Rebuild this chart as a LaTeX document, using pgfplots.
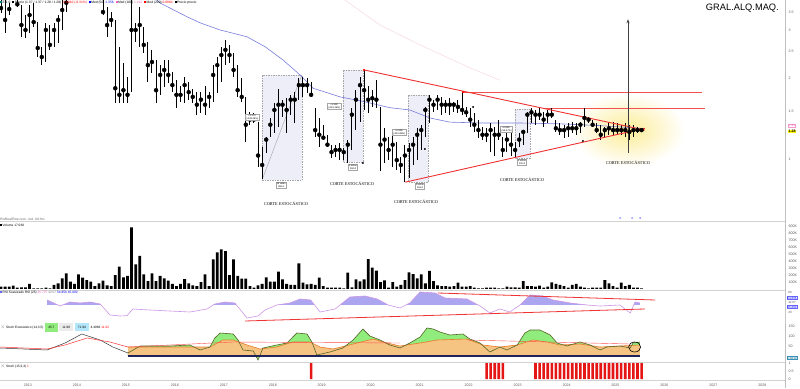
\documentclass[border=0pt]{standalone}
\usepackage{fontspec}
\setmainfont{Liberation Sans}
\newfontfamily\cortefont{Liberation Serif}
\usepackage{pgfplots}
\usepackage{pgfplotstable}
\pgfplotsset{compat=1.18}
\usetikzlibrary{arrows.meta}

\definecolor{maBlue}{RGB}{120,125,220}
\definecolor{maPink}{RGB}{246,222,228}
\definecolor{boxFill}{RGB}{238,238,248}
\definecolor{rsiLine}{RGB}{205,150,230}
\definecolor{rsiFill}{RGB}{172,166,240}
\definecolor{stGreen}{RGB}{144,236,124}
\definecolor{stOrange}{RGB}{246,196,130}
\definecolor{stOrangeLine}{RGB}{232,122,40}
\definecolor{stK}{RGB}{85,100,40}
\definecolor{navyline}{RGB}{30,35,90}
\definecolor{glow}{RGB}{252,236,150}
\definecolor{lblgray}{RGB}{90,90,90}
\definecolor{barred}{RGB}{228,22,22}
\definecolor{trendred}{RGB}{240,50,50}
\definecolor{hred}{RGB}{245,80,80}

\newcommand{\tinyf}{\fontsize{3.6}{4}\selectfont}

\pgfplotsset{
 panel/.style={
   scale only axis, width=785pt, xmin=-6.25, xmax=186.15,
   axis line style={draw=none}, tick style={draw=none},
   xtick=\empty, yticklabel pos=right,
   /pgf/number format/assume math mode=true,
   yticklabel style={font=\tinyf, text=lblgray},
   anchor=north west,
 }
}

\pgfplotstableread{
m h l c
-6 4.30 3.48 3.63
-5 4.10 2.94 3.28
-4 3.79 3.42 3.60
-3 4.60 4.00 4.30
-2 3.95 3.67 3.75
-1 3.73 2.84 3.14
0 3.42 2.82 3.01
1 3.73 2.94 3.42
2 3.79 3.09 3.22
3 3.22 2.39 2.58
4 2.61 2.23 2.39
5 3.20 2.29 3.01
6 3.14 2.54 2.65
7 3.20 2.61 3.01
8 3.42 2.70 3.28
9 3.90 3.01 3.57
10 4.10 3.51 3.80
11 4.60 3.95 4.30
12 5.20 4.20 4.90
13 5.60 4.60 5.00
14 5.40 4.50 4.80
15 5.00 4.20 4.60
16 4.90 4.10 4.50
17 4.70 4.00 4.30
18 4.50 3.95 4.20
19 4.00 3.42 3.51
20 3.67 2.84 3.14
21 3.51 3.09 3.28
22 3.28 1.61 1.83
23 2.61 1.61 1.73
24 2.27 1.61 1.80
25 2.01 1.61 1.73
26 3.90 1.77 3.01
27 3.20 2.72 3.01
28 3.67 2.61 3.14
29 3.09 2.47 2.65
30 2.72 1.93 2.23
31 2.54 2.09 2.29
32 2.33 1.61 1.80
33 2.23 1.73 2.05
34 2.33 1.85 2.14
35 2.33 1.91 2.05
36 2.10 1.77 1.88
37 1.96 1.55 1.73
38 1.86 1.63 1.73
39 2.01 1.61 1.88
40 1.93 1.66 1.77
41 1.82 1.61 1.70
42 1.77 1.46 1.59
43 1.77 1.48 1.66
44 1.86 1.46 1.59
45 1.77 1.55 1.70
46 2.23 1.63 2.05
47 2.39 1.76 2.23
48 2.61 1.93 2.43
49 2.77 2.23 2.54
50 2.65 2.27 2.43
51 2.47 2.01 2.14
52 2.23 1.70 1.80
53 1.99 1.63 1.70
54 1.70 1.16 1.34
55 1.49 1.34 1.40
56 1.48 1.36 1.40
57 1.37 0.93 1.03
58 1.11 0.84 0.95
59 1.21 1.05 1.18
60 1.42 1.21 1.34
61 1.61 1.25 1.52
62 1.82 1.31 1.59
63 1.66 1.43 1.59
64 1.68 1.25 1.52
65 1.73 1.46 1.66
66 1.77 1.36 1.66
67 1.99 1.66 1.88
68 2.01 1.70 1.88
69 1.99 1.76 1.88
70 1.93 1.70 1.73
71 1.55 1.21 1.28
72 1.42 1.11 1.23
73 1.34 1.18 1.20
74 1.23 1.11 1.13
75 1.13 1.01 1.06
76 1.13 1.02 1.08
77 1.15 0.99 1.08
78 1.10 0.99 1.06
79 1.18 0.97 1.13
80 1.55 1.08 1.46
81 1.80 1.28 1.66
82 2.01 1.37 1.88
83 2.14 1.52 1.80
84 1.86 1.48 1.66
85 1.80 1.56 1.68
86 1.96 1.55 1.66
87 1.56 0.90 1.13
88 1.30 0.97 1.18
89 1.21 0.99 1.08
90 1.23 0.93 1.13
91 1.16 0.91 0.99
92 1.02 0.89 0.95
93 1.13 0.82 1.03
94 1.15 0.85 1.08
95 1.21 0.95 1.13
96 1.30 0.99 1.23
97 1.34 1.08 1.28
98 1.56 1.21 1.52
99 1.73 1.36 1.66
100 1.66 1.49 1.59
101 1.73 1.52 1.66
102 1.70 1.46 1.59
103 1.66 1.48 1.59
104 1.68 1.46 1.59
105 1.63 1.49 1.59
106 1.66 1.48 1.56
107 1.77 1.46 1.52
108 1.56 1.43 1.49
109 1.55 1.31 1.40
110 1.48 1.26 1.34
111 1.40 1.20 1.28
112 1.31 1.18 1.23
113 1.30 1.16 1.23
114 1.36 1.06 1.28
115 1.31 1.03 1.23
116 1.40 1.18 1.23
117 1.21 1.02 1.08
118 1.26 1.06 1.18
119 1.25 1.03 1.13
120 1.16 1.01 1.08
121 1.25 1.11 1.18
122 1.28 1.13 1.26
123 1.49 1.25 1.46
124 1.55 1.36 1.49
125 1.52 1.34 1.46
126 1.55 1.40 1.46
127 1.49 1.31 1.40
128 1.52 1.36 1.46
129 1.55 1.42 1.46
130 1.40 1.26 1.30
131 1.36 1.23 1.28
132 1.34 1.20 1.28
133 1.36 1.21 1.30
134 1.37 1.25 1.30
135 1.36 1.23 1.30
136 1.37 1.25 1.34
137 1.55 1.31 1.42
138 1.43 1.36 1.40
139 1.40 1.31 1.34
140 1.36 1.25 1.28
141 1.34 1.18 1.23
142 1.31 1.20 1.28
143 1.37 1.23 1.30
144 1.37 1.23 1.28
145 1.36 1.23 1.28
146 1.34 1.23 1.28
147 1.36 1.21 1.28
148 1.34 1.18 1.26
149 1.34 1.21 1.28
150 1.31 1.25 1.28
151 1.30 1.26 1.28
}\pricedata

\pgfplotstableread{
m v
-6 34
-5 34
-4 34
-3 48
-2 20
-1 24
0 24
1 72
2 10
3 10
4 10
5 20
6 10
7 58
8 80
9 152
10 224
11 104
12 72
13 210
14 162
15 128
16 104
17 42
18 80
19 120
20 52
21 42
22 200
23 320
24 166
25 186
26 880
27 352
28 472
29 210
30 114
31 224
32 114
33 186
34 152
35 120
36 72
37 42
38 72
39 142
40 80
41 52
42 42
43 100
44 210
45 42
46 424
47 524
48 566
49 542
50 200
51 424
52 186
53 148
54 148
55 42
56 20
57 52
58 72
59 166
60 104
61 104
62 248
63 138
64 72
65 58
66 58
67 366
68 90
69 66
70 72
71 58
72 162
73 42
74 20
75 20
76 20
77 20
78 10
79 234
80 24
81 138
82 110
83 138
84 428
85 304
86 262
87 100
88 124
89 20
90 100
91 34
92 58
93 128
94 238
95 214
96 152
97 210
98 80
99 258
100 114
101 52
102 42
103 42
104 34
105 42
106 90
107 34
108 34
109 42
110 20
111 10
112 10
113 20
114 20
115 20
116 10
117 10
118 34
119 24
120 24
121 20
122 114
123 42
124 42
125 34
126 48
127 20
128 34
129 96
130 72
131 58
132 42
133 20
134 58
135 72
136 34
137 20
138 10
139 20
140 20
141 20
142 128
143 80
144 42
145 20
146 90
147 42
148 58
149 20
150 20
151 10
}\voldata

\pgfplotstableread{
m r
5.3 70
8.5 55
9.7 60
10.9 65
13.4 62.5
15.8 65
18.3 60
20.7 32.5
23.2 30
24.9 31
26.3 47.5
30.5 45
35.4 42.5
40.3 40
44.5 47.5
46.4 60
48.9 65
51.3 62.5
54.3 25
57.0 30
58.7 45
61.6 57.5
64.8 62.5
67.3 72.5
69.9 70
72.2 40
75.9 47.5
79.5 77.5
83.2 80
86.2 72.5
88.9 57.5
91.8 50
94.2 62.5
96.7 90
100.4 87.5
102.8 75
108.2 72.5
111.4 55
113.8 37.5
116.3 47.5
118.7 40
121.2 57.5
123.7 82.5
126.8 80
129.3 70
133.5 62.5
137.6 57.5
140.8 55
145.7 57.5
148.2 37.5
149.4 65
150.6 62.5
}\rsidata

\pgfplotstableread{
m k
25.1 15
28.1 50
35.4 50
40.3 55
42.8 30
45.2 45
46.4 90
47.7 115
50.9 110
52.1 80
53.3 30
55.8 25
57.0 -20
58.2 40
61.6 55
64.1 65
66.5 115
69.0 110
70.2 70
71.4 5
74.6 20
77.8 40
80.3 80
82.7 135
84.4 100
86.9 80
89.3 55
91.8 40
94.2 65
96.7 95
98.4 140
99.9 135
101.6 120
104.0 105
107.2 110
108.9 85
111.4 65
113.8 20
116.3 45
118.0 30
120.5 55
122.4 115
123.7 130
126.1 130
128.6 105
130.3 65
132.7 50
135.9 70
138.4 55
140.8 30
142.5 45
145.7 50
148.2 40
148.9 65
150.6 70
}\stk

\pgfplotstableread{
m d
25.1 45
28.1 45
45.2 45
48.4 80
50.9 80
54.3 55
57.5 35
61.6 45
65.5 70
69.7 70
72.2 45
75.4 35
80.3 60
85.2 85
88.6 65
91.8 50
96.7 65
100.9 80
108.2 85
112.1 55
116.3 45
120.5 55
124.4 80
127.8 70
131.0 55
135.9 60
140.8 45
145.7 50
150.6 55
}\std

\begin{document}
\begin{tikzpicture}
\useasboundingbox (0,0) rectangle (800pt,-388pt);
\fill[white] (0,0) rectangle (800pt,-388pt);

% background annotations (pixel coordinates)
\begin{scope}[x=1pt,y=-1pt]
 \shade[inner color=glow, outer color=white] (628,130) ellipse [x radius=57pt, y radius=37pt];
 \foreach \a/\b/\c/\d in {262/75/302/180, 343/70/363/162, 408/95/428/182, 515/109/530/158}{
   \fill[boxFill] (\a,\b) rectangle (\c,\d);
   \draw[gray!70, line width=0.4pt, dash pattern=on 1.5pt off 1pt] (\a,\b) rectangle (\c,\d);
 }
 \draw[gray!80, line width=0.35pt] (262,180) -- (301,77);
 \foreach \yy in {221,290,323.5,362,380}{\draw[gray!35, line width=0.4pt] (0,\yy) -- (785,\yy);}
 \draw[gray!50, line width=0.4pt] (785,0) -- (785,388);
\end{scope}

% ---------------- price panel ----------------
\begin{axis}[panel, at={(0pt,0pt)}, height=214pt, ymode=log, ymin=0.625, ymax=3.89,
  ytick={1,1.5,2,2.5,3,3.5}, yticklabels={1,1.5,2,2.5,3,3.5}]
 \addplot[draw=maPink, line width=0.6pt] coordinates {(75,4.2) (78.3,3.89) (86.9,3.14) (96.7,2.65) (108.9,2.18) (116.3,1.96)};
 \addplot[draw=maBlue, line width=0.6pt] coordinates {(31.7,3.95) (33.0,3.79) (39.6,3.37) (42.8,3.20) (47.7,3.01) (54.3,2.84) (58.7,2.61) (63.1,2.33) (67.3,2.05) (70.5,1.83) (77.1,1.70) (83.2,1.63) (89.3,1.55) (94.2,1.52) (99.1,1.42) (104.0,1.37) (111.4,1.36) (121.2,1.36) (131.0,1.35) (140.8,1.33) (150.6,1.30)};
 \addplot[draw=hred, line width=0.9pt] coordinates {(107.2,1.77) (165.8,1.77)};
 \addplot[draw=hred, line width=0.9pt] coordinates {(127.3,1.545) (166.5,1.545)};
 \addplot[only marks, mark=none, error bars/.cd, y dir=both, y explicit, error mark=none,
   error mark options={draw=none, fill=none, mark size=0pt},
   error bar style={draw=black, line width=1.0pt}]
   table[x=m, y=c, y error plus expr=\thisrow{h}-\thisrow{c}, y error minus expr=\thisrow{c}-\thisrow{l}] {\pricedata};
 \addplot[only marks, mark=-, mark size=0.6pt, black, mark options={xshift=0.7pt, line width=0.4pt}] table[x=m, y=c] {\pricedata};
 \addplot[draw=trendred, line width=0.9pt] coordinates {(82.97,2.14) (151.8,1.28)};
 \addplot[draw=trendred, line width=0.9pt] coordinates {(93.0,0.82) (151.8,1.30)};
 \addplot[draw=black!75, line width=0.7pt, -{Stealth[length=4pt, width=3pt]}] coordinates {(147.67,1.053) (147.67,3.30)};
 \addplot[only marks, mark=*, mark size=0.7pt, black] coordinates {(82.7,0.966) (97.9,1.089) (109.7,1.56) (136.6,1.166)};
 \addplot[only marks, mark=*, mark size=0.8pt, red] coordinates {(82.97,2.14) (107.2,1.77)};
\end{axis}

% ---------------- volume panel ----------------
\begin{axis}[panel, at={(0pt,-222pt)}, height=67pt, ymin=0, ymax=958,
  ytick={100,200,300,400,500,600,700,800,900},
  yticklabels={100K,200K,300K,400K,500K,600K,700K,800K,900K}]
 \addplot[ybar, bar width=2.8pt, fill=black, draw=none] table[x=m, y=v] {\voldata};
\end{axis}

% ---------------- RSI panel ----------------
\begin{axis}[panel, at={(0pt,-290pt)}, height=34pt, ymin=10, ymax=95, ytick=\empty]
 \addplot[fill=rsiFill, draw=none] table[x=m, y=r] {\rsidata} \closedcycle;
 \fill[white] (axis cs:-10,0) rectangle (axis cs:190,58);
 \addplot[draw=rsiLine, line width=0.6pt] table[x=m, y=r] {\rsidata};
 \addplot[draw=trendred, line width=0.8pt] coordinates {(101.1,87.5) (154.3,70)};
 \addplot[draw=trendred, line width=0.8pt] coordinates {(53.8,17.5) (151.8,47.5)};
\end{axis}

% ---------------- Stochastic panel ----------------
\begin{axis}[panel, at={(0pt,-324pt)}, height=38pt, ymin=-30, ymax=160, ytick={50,100,150}]
 \addplot[fill=stGreen, draw=none] table[x=m, y=k] {\stk} \closedcycle;
 \addplot[fill=stOrange, draw=none] table[x=m, y=d] {\std} \closedcycle;
 \addplot[draw=stOrangeLine, line width=0.6pt] table[x=m, y=d] {\std};
 \addplot[draw=stK, line width=0.6pt] table[x=m, y=k] {\stk};
 \addplot[draw=black!80, line width=0.5pt] coordinates {(-6.25,40) (5.3,30) (9.7,65) (13.8,110) (18.3,80) (21.4,45) (25.1,15)};
 \addplot[draw=red!80, line width=0.5pt] coordinates {(-6.25,45) (5.3,35) (9.7,55) (15.1,90) (20.7,70) (25.1,45)};
 \addplot[draw=red!70, line width=0.4pt] coordinates {(25.1,45) (50.9,70) (91.8,65)};
 \addplot[draw=red!70, line width=0.4pt] coordinates {(108.2,80) (148.2,60)};
 \addplot[draw=navyline, line width=1.4pt] coordinates {(25.1,0) (150.6,0)};
 \draw[black, line width=0.6pt] (axis cs:149.3,45) ellipse [x radius=6pt, y radius=5pt];
\end{axis}

% ---------------- signal bars panel ----------------
\begin{axis}[panel, at={(0pt,-362pt)}, height=18pt, ymin=-0.0625, ymax=1.0625,
  ytick={0,0.5,1}, yticklabels={0,0.5,1},
  xtick={0.6,12.6,24.6,36.6,48.6,60.6,72.6,84.6,96.6,108.6,120.6,132.6,144.6,156.6,168.6,180.6},
  xticklabels={2013,2014,2015,2016,2017,2018,2019,2020,2021,2022,2023,2024,2025,2026,2027,2028},
  xticklabel style={font=\tinyf, text=lblgray}]
 \addplot[ybar, bar width=2.6pt, fill=barred, draw=none] coordinates {
  (70,1) (113,1) (114,1) (115,1) (116,1) (117,1)
  (125,1) (126,1) (127,1) (128,1) (129,1) (130,1) (131,1) (132,1) (133,1) (134,1)
  (135,1) (136,1) (137,1) (138,1) (139,1) (140,1) (141,1) (142,1) (143,1) (144,1)
  (145,1) (146,1) (147,1) (148,1) (149,1) (150,1) (151,1)};
\end{axis}

% ---------------- foreground annotations ----------------
\begin{scope}[x=1pt,y=-1pt]
 \tikzset{corte/.style={font=\cortefont\fontsize{4.3}{5}\selectfont, inner sep=0}}
 \node[corte] at (286,204) {CORTE ESTOCÁSTICO};
 \node[corte] at (352,184) {CORTE ESTOCÁSTICO};
 \node[corte] at (416,202) {CORTE ESTOCÁSTICO};
 \node[corte] at (522,180) {CORTE ESTOCÁSTICO};
 \node[corte] at (628,163) {CORTE ESTOCÁSTICO};
 \tikzset{lbl/.style={draw=gray!70, fill=white, inner sep=0.6pt, font=\fontsize{2.4}{2.9}\selectfont, align=center}}
 \node[lbl] at (252,117) {+1.170\\(+139.29\%)};
 \node[lbl] at (281,185) {13 velas\\396 d};
 \node[lbl] at (334,106) {+1.150\\(+116.16\%)};
 \node[lbl] at (353,167) {6 velas\\184 d};
 \node[lbl] at (399,132) {+0.950\\(+115.85\%)};
 \node[lbl] at (420,186) {5 velas\\153 d};
 \node[lbl] at (506,129) {+0.540\\(+53.47\%)};
 \node[lbl] at (522,162) {4 velas\\122 d};
 % header line
 \node[anchor=west, inner sep=0, font=\fontsize{3.3}{3.6}\selectfont] at (0,2.6)
  {\textcolor{teal}{\rule{2pt}{2pt}}\,E 1 0\ \ \rule{2pt}{2pt}\,Precio (1.37 / 1.37 / 1.28 / 1.28) \textcolor{red}{-0.0040 (-0.31\%)}\ \ \textcolor{blue}{\rule{2pt}{2pt}}\,Med (50) \textcolor{blue}{1.356}\ \ \textcolor{magenta!60}{\rule{2pt}{2pt}}\,Med (100) \textcolor{magenta!60}{1.412}\ \ \textcolor{red}{\rule{2pt}{2pt}}\,Med (200) \textcolor{red}{0.8864}\ \ \rule{2pt}{2pt}\,Precio previo};
 \node[anchor=north east, inner sep=0, font=\fontsize{9.3}{10}\selectfont] at (779,3.5) {GRAL.ALQ.MAQ.};
 % price label
 \node[draw=magenta!40, fill=white, inner sep=0.4pt, font=\fontsize{3}{3.2}\selectfont, text=magenta!60] at (792,125.5) {1.35};
 \node[fill=yellow, inner sep=0.6pt, font=\bfseries\fontsize{3.6}{4}\selectfont] at (792,131.5) {1.28};
 % volume header
 \node[anchor=west, inner sep=0, font=\fontsize{3.2}{3.5}\selectfont, text=lblgray] at (0,219.5) {ProRealTime.com - Ind. 0.0 fnc};
 \node[anchor=west, inner sep=0, font=\fontsize{3.2}{3.5}\selectfont] at (0,225) {\rule{2pt}{2pt}\,Volume 17.030};
 \foreach \xx in {620,632,640}{\fill[blue!45] (\xx,218) circle (1pt);}
 % RSI header and labels
 \node[anchor=west, inner sep=0, font=\fontsize{3.2}{3.5}\selectfont] at (0,292.5) {\textcolor{blue!60}{\rule{2pt}{2pt}}\,RSI Suavizado RSI (25) \textcolor{magenta!60}{45.707}\ \textcolor{gray}{42.07}\ \textcolor{blue}{54.856}\ \textcolor{blue}{45.600}};
 \node[inner sep=0, font=\fontsize{3}{3.2}\selectfont, text=lblgray] at (790,292.5) {80};
 \node[draw=blue!60, fill=white, inner sep=0.4pt, font=\fontsize{3}{3.2}\selectfont, text=blue] at (792,298) {54.856};
 \node[inner sep=0, font=\fontsize{3}{3.2}\selectfont, text=lblgray] at (792,302.5) {42.07};
 \node[draw=blue!60, fill=white, inner sep=0.4pt, font=\fontsize{3}{3.2}\selectfont, text=blue] at (792,307) {45.600};
 \node[inner sep=0, font=\fontsize{3}{3.2}\selectfont, text=lblgray] at (790,312) {20};
 % Stochastic header and label
 \node[anchor=west, inner sep=0, font=\fontsize{3.2}{3.5}\selectfont] at (0,327.5) {\textcolor{gray}{$\times$}\,Stoch Estocástico (14,3,5)\ \ \colorbox{stGreen}{\strut 45.7}\ \ \colorbox{gray!15}{11.98}\ \ \colorbox{cyan!30}{71.94}\ \ 4.4066\ \textcolor{red}{11.62}};
 \node[draw=cyan!70!black, fill=cyan!15, inner sep=0.4pt, font=\fontsize{3}{3.2}\selectfont, text=cyan!50!black] at (792,358) {5.0810};
 % signal header
 \node[anchor=west, inner sep=0, font=\fontsize{3.2}{3.5}\selectfont] at (0,366) {\textcolor{gray}{$\times$}\,Stoch (15,3,3) \textcolor{red}{1}};
\end{scope}
\end{tikzpicture}
\end{document}
